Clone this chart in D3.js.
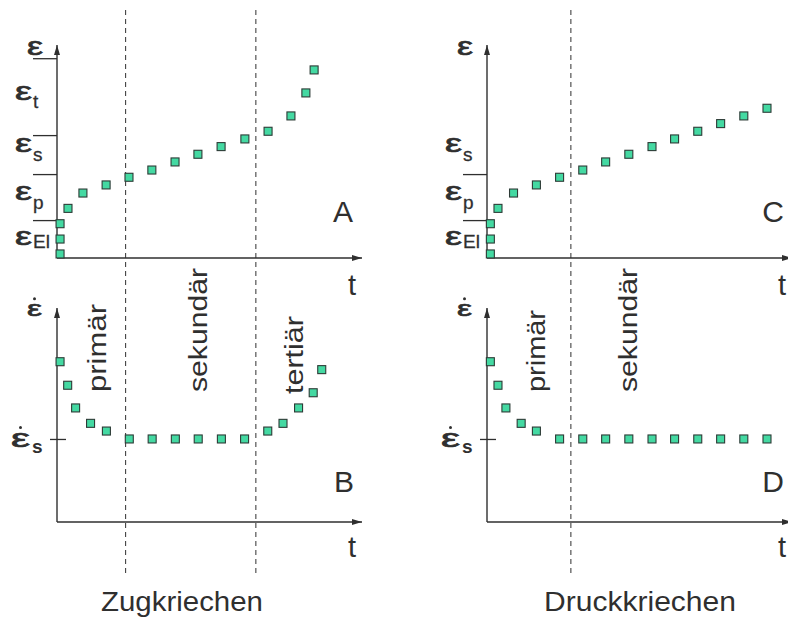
<!DOCTYPE html>
<html>
<head>
<meta charset="utf-8">
<script src="https://cdn.jsdelivr.net/npm/d3@7"></script>
<style>
  body { margin: 0; background: #fff; }
  svg { display: block; }
  text { font-family: "Liberation Sans", Arial, sans-serif; fill: #2f2f2f; }
</style>
</head>
<body>
<svg id="chart" width="788" height="618"></svg>
<script>
// ---- Zugkriechen (tension creep) ----
const tZugStrain  = [1, 1, 1, 3.6, 8.5, 16.1, 23.6, 31.1, 38.7, 46.2, 53.8, 61.6, 69.2, 76.7, 81.6, 84.3];
const zugStrain   = [1.9, 8.9, 16.1, 23.3, 30.5, 34.3, 37.9, 41.3, 45.1, 48.7, 52.3, 55.9, 59.5, 66.7, 77.5, 88.3];
const tZugRate    = [1, 3.5, 6.1, 11, 16.2, 23.7, 31.2, 38.8, 46.3, 53.9, 61.5, 69.1, 74.1, 79.2, 84, 86.8];
const zugRate     = [74.9, 63.9, 53.3, 46.1, 42.5, 38.8, 38.8, 38.8, 38.8, 38.8, 38.8, 42.5, 46.1, 53.3, 60.4, 71.2];

// ---- Druckkriechen (compression creep) ----
const tDruckStrain = [1.1, 1.1, 1.1, 3.6, 8.7, 16.2, 23.8, 31.4, 38.9, 46.5, 54.1, 61.5, 69.1, 76.6, 84.2, 91.8];
const druckStrain  = [1.9, 8.9, 16.1, 23.3, 30.5, 34.3, 37.9, 41.3, 45.1, 48.7, 52.3, 55.9, 59.5, 63.1, 66.7, 70.3];
const tDruckRate   = [1.1, 3.6, 6.2, 11.2, 16.2, 23.8, 31.4, 38.9, 46.5, 54.1, 61.5, 69.1, 76.6, 84.2, 91.8];
const druckRate    = [74.9, 63.9, 53.3, 46.1, 42.5, 38.8, 38.8, 38.8, 38.8, 38.8, 38.8, 38.8, 38.8, 38.8, 38.8];

// phase boundaries (time) and strain level ticks
const zugPhaseBounds   = [22.5, 65.2];
const druckPhaseBounds = [27.5];
const zugStrainTicks   = [17.8, 39.4, 57.7, 93.8];
const druckStrainTicks = [17.8, 39.4];
const steadyRate       = 38.8;

// text
const strainSubscripts = ["El", "p", "s", "t"];
const phaseNames   = ["primär", "sekundär", "tertiär"];
const panelLetters = ["A", "B", "C", "D"];
const titles       = ["Zugkriechen", "Druckkriechen"];

const svg = d3.select("#chart");
svg.append("rect").attr("width", 788).attr("height", 618).attr("fill", "#fff");

const ink = "#2f2f2f";
svg.append("defs").append("marker")
  .attr("id", "arrow").attr("viewBox", "0 0 10 6")
  .attr("refX", 10).attr("refY", 3)
  .attr("markerWidth", 10).attr("markerHeight", 6)
  .attr("markerUnits", "userSpaceOnUse").attr("orient", "auto")
  .append("path").attr("d", "M0,0L10,3L0,6Z").attr("fill", ink);

const yTop = d3.scaleLinear().domain([0, 100]).range([258, 45]);
const yBot = d3.scaleLinear().domain([0, 100]).range([522, 308]);
const xZug   = d3.scaleLinear().domain([0, 100]).range([57, 362]);
const xDruck = d3.scaleLinear().domain([0, 100]).range([487, 792]);

function axes(x, y) {
  const g = svg.append("g");
  g.append("line").attr("x1", x(0)).attr("y1", y(0)).attr("x2", x(100)).attr("y2", y(0))
    .attr("stroke", ink).attr("stroke-width", 1.4).attr("marker-end", "url(#arrow)");
  g.append("line").attr("x1", x(0)).attr("y1", y(0)).attr("x2", x(0)).attr("y2", y(100))
    .attr("stroke", ink).attr("stroke-width", 1.4).attr("marker-end", "url(#arrow)");
}

function strainTicks(x, ticks) {
  const g = svg.append("g").attr("transform", `translate(${x(0)},0)`)
    .call(d3.axisLeft(yTop).tickValues(ticks).tickSize(24).tickFormat(""));
  g.select(".domain").remove();
  g.selectAll(".tick line").attr("stroke", ink).attr("stroke-width", 1.3);
}

function rateTick(x) {
  [d3.axisLeft(yBot).tickSize(7), d3.axisRight(yBot).tickSize(9)].forEach(ax => {
    const g = svg.append("g").attr("transform", `translate(${x(0)},0)`)
      .call(ax.tickValues([steadyRate]).tickFormat(""));
    g.select(".domain").remove();
    g.selectAll(".tick line").attr("stroke", ink).attr("stroke-width", 1.3);
  });
}

function points(x, y, ts, vs) {
  svg.append("g").selectAll("rect").data(ts.map((t, i) => [t, vs[i]])).join("rect")
    .attr("x", d => x(d[0]) - 4).attr("y", d => y(d[1]) - 4)
    .attr("width", 8).attr("height", 8)
    .attr("fill", "#44d9a2").attr("stroke", "#2d3b36").attr("stroke-width", 1.1);
}

function phaseLines(x, bounds) {
  svg.append("g").selectAll("line").data(bounds).join("line")
    .attr("x1", d => x(d)).attr("x2", d => x(d))
    .attr("y1", 10).attr("y2", 576)
    .attr("stroke", ink).attr("stroke-width", 1).attr("stroke-dasharray", "5,4");
}

// epsilon glyph, widened like the symbol font
function eps(px, py, w, size, dot) {
  svg.append("text").attr("x", px).attr("y", py)
    .attr("font-size", size)
    .attr("stroke", ink).attr("stroke-width", 0.7)
    .attr("textLength", w).attr("lengthAdjust", "spacingAndGlyphs").text("ε");
  if (dot) svg.append("circle").attr("cx", px + w / 2).attr("cy", py - size * 0.78).attr("r", 1.5).attr("fill", ink);
}
function sub(px, py, s) {
  svg.append("text").attr("x", px).attr("y", py).attr("font-size", 19)
    .attr("stroke", ink).attr("stroke-width", 0.3).text(s);
}

function strainLabels(x, subs) {
  const off = x(0) - 57;
  const baseline = { El: 245, p: 200, s: 152, t: 100 };
  const dy = { El: 3, p: 9, s: 9, t: 8 };
  eps(27 + off, 55, 16, 25, false);
  subs.forEach(s => {
    eps(15 + off, baseline[s], 17, 25, false);
    sub(33 + off, baseline[s] + dy[s], s);
  });
}

function rateLabels(x) {
  const off = x(0) - 57;
  eps(27 + off, 316, 15, 22, true);
  eps(11 + off, 447, 19, 25, true);
  svg.append("text").attr("x", 32 + off).attr("y", 453).attr("font-size", 19)
    .attr("font-weight", "bold").text("s");
}

function phaseLabel(bx, by, len, s) {
  svg.append("text").attr("transform", `translate(${bx},${by}) rotate(-90)`)
    .attr("font-size", 26).attr("textLength", len).attr("lengthAdjust", "spacingAndGlyphs")
    .text(s);
}

function bigText(px, py, s, size, len) {
  const t = svg.append("text").attr("x", px).attr("y", py).attr("font-size", size)
    .attr("text-anchor", "middle").text(s);
  if (len) t.attr("textLength", len).attr("lengthAdjust", "spacingAndGlyphs");
}

// dashed phase boundaries go first so the axes sit on top
phaseLines(xZug, zugPhaseBounds);
phaseLines(xDruck, druckPhaseBounds);

// --- left column: Zugkriechen ---
axes(xZug, yTop);
axes(xZug, yBot);
strainTicks(xZug, zugStrainTicks);
rateTick(xZug);
points(xZug, yTop, tZugStrain, zugStrain);
points(xZug, yBot, tZugRate, zugRate);
strainLabels(xZug, strainSubscripts);
rateLabels(xZug);
phaseLabel(106, 392, 88, phaseNames[0]);
phaseLabel(207, 392, 124, phaseNames[1]);
phaseLabel(303, 394, 78, phaseNames[2]);

// --- right column: Druckkriechen ---
axes(xDruck, yTop);
axes(xDruck, yBot);
strainTicks(xDruck, druckStrainTicks);
rateTick(xDruck);
points(xDruck, yTop, tDruckStrain, druckStrain);
points(xDruck, yBot, tDruckRate, druckRate);
strainLabels(xDruck, strainSubscripts.slice(0, 3));
rateLabels(xDruck);
phaseLabel(545, 392, 82, phaseNames[0]);
phaseLabel(637, 392, 124, phaseNames[1]);

// panel letters and time labels
bigText(343, 222, panelLetters[0], 30);
bigText(344, 492, panelLetters[1], 30);
bigText(773, 222, panelLetters[2], 30);
bigText(773, 492, panelLetters[3], 30);
bigText(352, 295, "t", 29);
bigText(352, 557, "t", 29);
bigText(782, 295, "t", 29);
bigText(782, 557, "t", 29);

// column titles
bigText(182, 611, titles[0], 27, 162);
bigText(640, 611, titles[1], 27, 192);
</script>
</body>
</html>
